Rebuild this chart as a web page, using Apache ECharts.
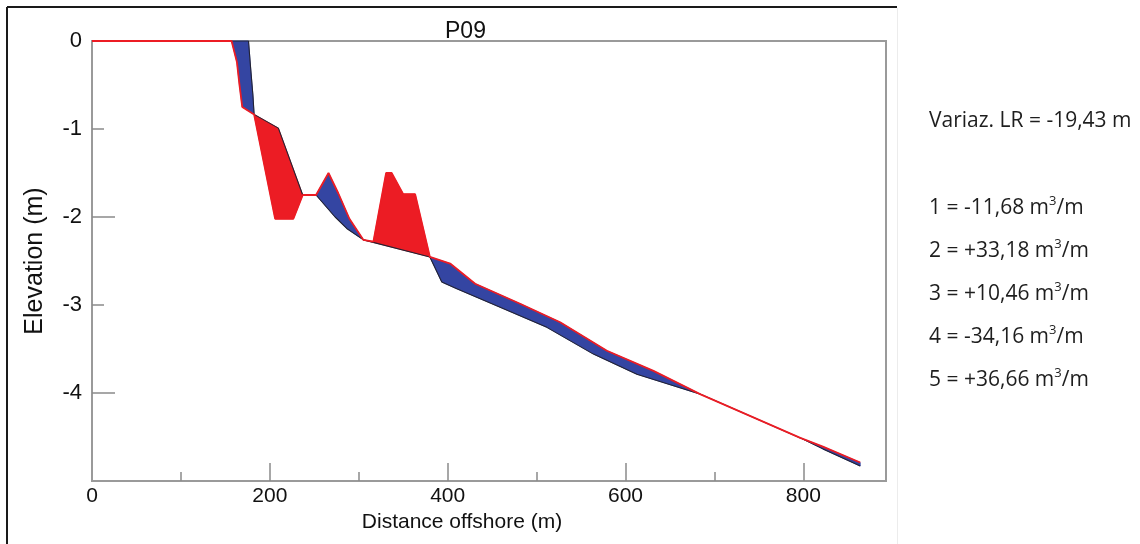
<!DOCTYPE html>
<html>
<head>
<meta charset="utf-8">
<script src="https://cdn.jsdelivr.net/npm/echarts@6/dist/echarts.min.js"></script>
<style>
html,body{margin:0;padding:0;background:#fff;}
#chart{width:1140px;height:544px;}
</style>
</head>
<body>
<div id="chart"></div>
<script>
// Profile drawn in red (distance offshore m, elevation m)
const distA = [0, 157, 163, 166, 169, 182.3, 206, 226.5, 237, 252, 266, 277, 289.5, 305.3, 316.5, 330.8, 337, 350, 363.4, 380, 402.8, 430.9, 481.5, 526.5, 579.1, 631.5, 684.5, 796.6, 822, 864];
const elevA = [0, 0, -0.24, -0.51, -0.75, -0.834, -2.02, -2.02, -1.75, -1.75, -1.50, -1.73, -2.02, -2.26, -2.28, -1.50, -1.50, -1.74, -1.74, -2.454, -2.529, -2.758, -2.986, -3.196, -3.52, -3.749, -4.015, -4.51, -4.61, -4.79];
// Profile drawn in black
const distB = [0, 176, 178.5, 181, 182.3, 209.6, 237, 252, 273.4, 286.5, 305.3, 380, 393.4, 410.3, 459, 511.6, 564, 612.8, 684.5, 796.6, 822, 864];
const elevB = [0, 0, -0.32, -0.62, -0.834, -0.99, -1.75, -1.75, -2.0, -2.13, -2.26, -2.454, -2.739, -2.815, -3.025, -3.254, -3.558, -3.786, -4.015, -4.51, -4.635, -4.83];
// Filled change regions between the two profiles
const regionStart = [157, 182.3, 252, 305.3, 380, 796.6];
const regionEnd   = [182.3, 237, 305.3, 380, 684.5, 864];
const regionFill  = ['blue', 'red', 'blue', 'red', 'blue', 'blue'];
// Region labels on the plot
const annoText = ['1', '2', '3', '4', '5'];
const annoDist = [209, 234, 282.4, 373.5, 505];
const annoElev = [-0.354, -1.063, -1.21, -1.486, -2.71];
// Right-hand text
const lrText = 'Variaz. LR = -19,43 m';
const volIds = ['1', '2', '3', '4', '5'];
const volVals = ['-11,68', '+33,18', '+10,46', '-34,16', '+36,66'];
// Axis ticks
const xLabelVals = [0, 200, 400, 600, 800];
const xMinorTicks = [100, 300, 500, 700];
const xMajorTicks = [200, 400, 600, 800];
const yLabelVals = [0, -1, -2, -3, -4];
const yMinorTicks = [-1, -3];
const yMajorTicks = [0, -2, -4];

const COLORS = { red: '#ec1c24', blue: '#3445a2' };
const sans = "'Liberation Sans', Arial, sans-serif";
const cal = "'Open Sans', Lato, sans-serif";

const chart = echarts.init(document.getElementById('chart'), null, { renderer: 'canvas' });

const AXC = '#9a9a9a';
const X_MAX = 893;

function inRange(d, a, b) { return d >= a - 1e-6 && d <= b + 1e-6; }

const legendEls = [];
legendEls.push({
  type: 'text', left: 929, top: 108,
  style: { text: lrText, fontSize: 21, fontFamily: cal, lineHeight: 26, fill: '#1e1e1e' }
});
volIds.forEach((id, i) => {
  legendEls.push({
    type: 'text', left: 929, top: 195 + i * 43,
    style: {
      text: '{a|' + id + ' = ' + volVals[i] + ' m}{s|3}{a|/m}',
      rich: {
        a: { fontSize: 21, fontFamily: cal, fill: '#1e1e1e', lineHeight: 26, verticalAlign: 'middle' },
        s: { fontSize: 13, fontFamily: cal, fill: '#1e1e1e', lineHeight: 15, verticalAlign: 'top' }
      }
    }
  });
});

const option = {
  backgroundColor: '#fff',
  animation: false,
  title: {
    text: 'P09', left: 440, top: 15,
    textStyle: { fontFamily: sans, fontSize: 23, fontWeight: 'normal', color: '#111' }
  },
  grid: { left: 92, top: 41, right: 254, bottom: 63, show: true, borderColor: AXC, borderWidth: 2, containLabel: false },
  xAxis: [{
    type: 'value', min: 0, max: X_MAX, position: 'bottom',
    name: 'Distance offshore (m)', nameLocation: 'middle', nameGap: 31,
    nameTextStyle: { fontFamily: sans, fontSize: 21, color: '#111', padding: [0, 54, 0, 0] },
    axisLine: { show: true, onZero: false, lineStyle: { color: AXC, width: 2 } },
    axisTick: { show: true, inside: true, length: 9, customValues: xMinorTicks, lineStyle: { color: '#8a8a8a', width: 1.5 } },
    axisLabel: { show: true, customValues: xLabelVals, margin: 5, fontFamily: sans, fontSize: 21, color: '#111' },
    splitLine: { show: false }
  }, {
    type: 'value', min: 0, max: X_MAX, position: 'bottom',
    axisLine: { show: false, onZero: false },
    axisTick: { show: true, inside: true, length: 18, customValues: xMajorTicks, lineStyle: { color: '#8a8a8a', width: 1.5 } },
    axisLabel: { show: false },
    splitLine: { show: false }
  }],
  yAxis: [{
    type: 'value', min: -5, max: 0, position: 'left',
    name: 'Elevation (m)', nameLocation: 'middle', nameGap: 44,
    nameTextStyle: { fontFamily: sans, fontSize: 25, color: '#111' },
    axisLine: { show: true, onZero: false, lineStyle: { color: AXC, width: 2 } },
    axisTick: { show: true, inside: true, length: 12, customValues: yMinorTicks, lineStyle: { color: '#8a8a8a', width: 1.5 } },
    axisLabel: { show: true, customValues: yLabelVals, margin: 10, fontFamily: sans, fontSize: 22, color: '#111' },
    splitLine: { show: false }
  }, {
    type: 'value', min: -5, max: 0, position: 'left',
    axisLine: { show: false, onZero: false },
    axisTick: { show: true, inside: true, length: 23, customValues: yMajorTicks, lineStyle: { color: '#8a8a8a', width: 1.5 } },
    axisLabel: { show: false },
    splitLine: { show: false }
  }],
  graphic: [
    { type: 'line', shape: { x1: 7, y1: 7, x2: 897, y2: 7 }, style: { stroke: '#1a1a1a', lineWidth: 2 }, z: 100 },
    { type: 'line', shape: { x1: 7, y1: 7, x2: 7, y2: 544 }, style: { stroke: '#1a1a1a', lineWidth: 2 }, z: 100 },
    { type: 'line', shape: { x1: 897.5, y1: 8, x2: 897.5, y2: 544 }, style: { stroke: '#ececec', lineWidth: 1 }, z: 100 }
  ].concat(legendEls),
  series: [
    {
      type: 'custom',
      name: 'change',
      xAxisIndex: 0, yAxisIndex: 0,
      z: 2,
      data: regionStart.map((s, i) => [s, regionEnd[i]]),
      encode: { x: [0, 1] },
      renderItem: function (params, api) {
        const i = params.dataIndex;
        const a = regionStart[i], b = regionEnd[i];
        const pts = [];
        for (let k = 0; k < distA.length; k++) {
          if (inRange(distA[k], a, b)) pts.push(api.coord([distA[k], elevA[k]]));
        }
        for (let k = distB.length - 1; k >= 0; k--) {
          if (inRange(distB[k], a, b)) pts.push(api.coord([distB[k], elevB[k]]));
        }
        const c = COLORS[regionFill[i]];
        return { type: 'polygon', shape: { points: pts }, style: { fill: c, stroke: c, lineWidth: 0.8 } };
      }
    },
    {
      type: 'line', name: 'profile B', xAxisIndex: 0, yAxisIndex: 0, z: 3,
      data: distB.map((d, i) => [d, elevB[i]]),
      showSymbol: false, symbol: 'none',
      lineStyle: { color: '#222233', width: 1.1 }
    },
    {
      type: 'line', name: 'profile A', xAxisIndex: 0, yAxisIndex: 0, z: 4,
      data: distA.map((d, i) => [d, elevA[i]]),
      showSymbol: false, symbol: 'none',
      lineStyle: { color: COLORS.red, width: 1.8 }
    },
    {
      type: 'scatter', name: 'labels', xAxisIndex: 0, yAxisIndex: 0, z: 5,
      symbolSize: 1, itemStyle: { opacity: 0 },
      data: annoText.map((t, i) => ({ name: t, value: [annoDist[i], annoElev[i]] })),
      label: { show: true, position: 'inside', formatter: '{b}', fontFamily: cal, fontSize: 20, color: '#1e1e1e' }
    }
  ]
};
chart.setOption(option);
</script>
</body>
</html>
